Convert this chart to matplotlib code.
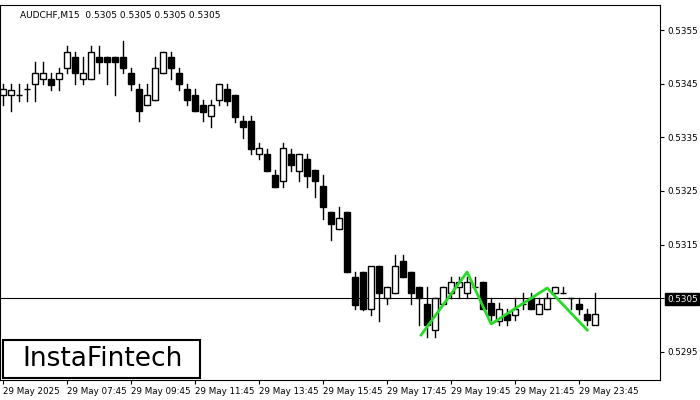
import matplotlib
matplotlib.use("Agg")
import matplotlib.pyplot as plt
from matplotlib.patches import Rectangle

# OHLC (screen y pixels), converted to price below
opens_px = [95,95,95,89,84,79,79,79,68,57,79,79,57,57,57,57,73,89,105,100,73,57,73,89,95,105,116,100,89,95,121,121,154,154,175,181,154,171,159,170,186,212,229,212,277,272,309,266,298,293,261,272,287,304,330,304,293,287,293,287,282,303,321,314,315,304,298,314,309,293,293,298,304,314,325]
closes_px = [89,90,95,89,73,73,85,73,52,73,73,52,62,62,62,68,84,111,95,68,52,68,84,100,111,112,105,84,101,117,127,149,148,171,187,148,165,154,176,181,207,224,218,272,305,309,266,293,287,266,277,293,298,325,298,287,282,282,282,287,309,315,309,320,309,304,309,304,298,287,293,298,309,320,314]
highs_px = [84,84,84,84,62,62,73,68,46,52,57,46,46,57,57,41,68,84,84,57,52,52,68,84,89,100,100,84,84,95,116,116,143,149,170,143,149,154,154,170,175,212,207,212,272,272,272,266,287,255,255,272,287,287,298,287,277,277,277,277,282,298,303,309,298,293,293,298,293,287,287,298,298,309,293]
lows_px = [105,111,101,101,101,84,90,90,73,84,84,79,73,84,95,73,90,121,105,100,73,79,90,105,111,121,127,105,105,122,138,154,159,171,187,187,171,181,187,197,219,240,229,272,309,310,315,321,304,293,277,304,325,337,337,304,298,298,298,287,309,320,325,325,320,309,309,314,309,293,293,309,314,325,320]

def px2price(y):
    return 0.5305 + (298 - y) * 0.0010 / 53.5

opens = [px2price(v) for v in opens_px]
closes = [px2price(v) for v in closes_px]
highs = [px2price(v) for v in highs_px]
lows = [px2price(v) for v in lows_px]

pattern_idx = [52.25, 58, 61, 68, 73]
pattern_px = [335, 272, 324, 288, 330]
pattern_price = [px2price(v) for v in pattern_px]

yticks = [0.5295, 0.5305, 0.5315, 0.5325, 0.5335, 0.5345, 0.5355]
xtick_idx = [0, 8, 16, 24, 32, 40, 48, 56, 64, 72]
xtick_labels = ["29 May 2025", "29 May 07:45", "29 May 09:45", "29 May 11:45", "29 May 13:45",
                "29 May 15:45", "29 May 17:45", "29 May 19:45", "29 May 21:45", "29 May 23:45"]
current = 0.5305

fig = plt.figure(figsize=(7, 4), dpi=100)
ax = fig.add_axes([0.0, 0.05, 660/700, 0.9375])
ax.set_xlim(-0.375, 82.1)
ax.set_ylim(px2price(380), px2price(5))

w = 0.7
for i, (o, c, h, l) in enumerate(zip(opens, closes, highs, lows)):
    ax.plot([i, i], [l, h], color="black", lw=1, zorder=2)
    bottom = min(o, c)
    height = max(abs(c - o), 0.000005)
    fc = "white" if c >= o else "black"
    ax.add_patch(Rectangle((i - w/2, bottom), w, height, facecolor=fc, edgecolor="black", lw=1, zorder=3))

ax.axhline(current, color="black", lw=0.8, zorder=1)
ax.plot(pattern_idx, pattern_price, color="#22dd22", lw=2, zorder=4)

ax.yaxis.tick_right()
ax.set_yticks(yticks)
ax.set_yticklabels([f"{v:.4f}" for v in yticks], fontsize=6.3)
ax.tick_params(axis="y", length=3, pad=2)
ax.set_xticks(xtick_idx)
ax.set_xticklabels(xtick_labels, fontsize=6.3, ha="left")
ax.tick_params(axis="x", length=3, pad=2)
for lab in ax.get_yticklabels():
    if lab.get_text() == "0.5305":
        lab.set_color("white")
        lab.set_bbox(dict(facecolor="black", edgecolor="black", pad=1.2))

ax.text(0.03, 0.985, "AUDCHF,M15  0.5305 0.5305 0.5305 0.5305", transform=ax.transAxes,
        fontsize=6.5, va="top", ha="left")

fig.patches.append(Rectangle((3/700, 22/400), 197/700, 38/400, transform=fig.transFigure,
                             facecolor="white", edgecolor="black", lw=1.5, zorder=10))
fig.text(22/700, 41/400, "InstaFintech", fontsize=19, va="center", ha="left", zorder=11)

fig.savefig("out.png", dpi=100)
